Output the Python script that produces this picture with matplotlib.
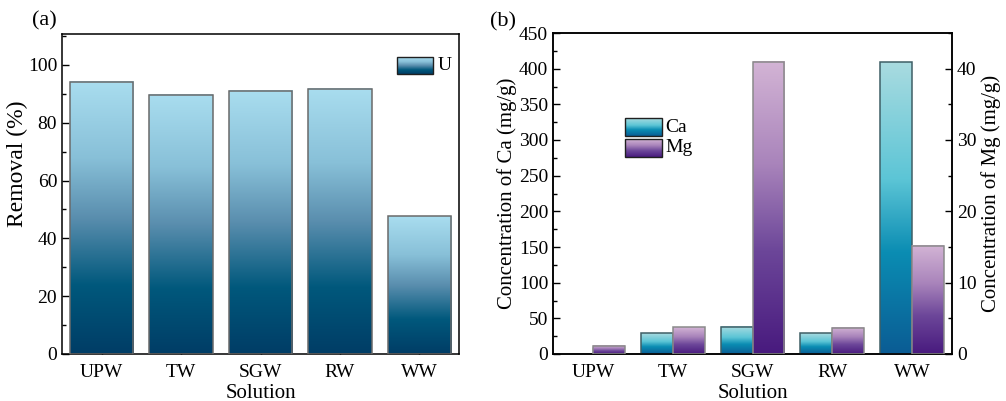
import matplotlib.pyplot as plt
import numpy as np
from matplotlib.colors import LinearSegmentedColormap
from matplotlib.patches import Rectangle
from matplotlib.ticker import MultipleLocator

plt.rcParams['font.family'] = ['Liberation Serif', 'DejaVu Serif']
plt.rcParams['mathtext.fontset'] = 'stix'

# Datos
solutions = ['UPW', 'TW', 'SGW', 'RW', 'WW']
removal_u = [94.2, 89.7, 91.0, 91.7, 47.7]
conc_ca = [0.0, 29.0, 38.5, 29.0, 409.0]
conc_mg = [1.15, 3.75, 41.0, 3.7, 15.2]

# Degradados (abajo -> arriba)
cmap_u = LinearSegmentedColormap.from_list(
    'u', [(0.0, '#003d66'), (0.25, '#00587c'), (0.5, '#5a8eae'),
          (0.72, '#88c0d8'), (1.0, '#a9ddef')])
cmap_ca = LinearSegmentedColormap.from_list(
    'ca', [(0.0, '#0a5c94'), (0.35, '#0b8db3'), (0.6, '#5cc5d6'),
           (1.0, '#a9dbe0')])
cmap_mg = LinearSegmentedColormap.from_list(
    'mg', [(0.0, '#481a7e'), (0.35, '#6c4699'), (0.65, '#a984bb'),
           (1.0, '#d3b4d5')])

grad = np.linspace(0, 1, 256).reshape(-1, 1)
TICK_FS = 14
LABEL_FS = 15


def gradient_bar(ax, x, h, w, cmap, edge='#6a6a6a'):
    if h <= 0:
        return
    ax.imshow(grad, extent=[x - w / 2, x + w / 2, 0, h], origin='lower',
              cmap=cmap, aspect='auto', zorder=2, interpolation='bilinear')
    ax.add_patch(Rectangle((x - w / 2, 0), w, h, fill=False, edgecolor=edge,
                           linewidth=1.1, zorder=3))


def gradient_key(ax, x0, y0, w, h, cmap, label):
    ax.imshow(grad, extent=[x0, x0 + w, y0, y0 + h], origin='lower', cmap=cmap,
              aspect='auto', transform=ax.transAxes, zorder=4)
    ax.add_patch(Rectangle((x0, y0), w, h, fill=False, edgecolor='#202020',
                           linewidth=1.0, transform=ax.transAxes, zorder=5))
    ax.text(x0 + w + 0.01, y0 + h / 2, label, transform=ax.transAxes,
            ha='left', va='center', fontsize=14)


def style_axis(ax):
    ax.tick_params(direction='in', which='both', labelsize=TICK_FS, top=False)
    ax.tick_params(which='major', length=5, width=1)
    ax.tick_params(which='minor', length=3, width=1)
    for s in ax.spines.values():
        s.set_linewidth(1.1)


fig = plt.figure(figsize=(10.06, 4.01), dpi=100)
ax1 = fig.add_axes([62 / 1006, 1 - 354 / 401, 397 / 1006, 320 / 401])
ax2 = fig.add_axes([553 / 1006, 1 - 354 / 401, 399 / 1006, 321 / 401])

x = np.arange(len(solutions))

# (a) Eliminación de U
for xi, v in zip(x, removal_u):
    gradient_bar(ax1, xi, v, 0.8, cmap_u)
ax1.set_xlim(-0.5, 4.5)
ax1.set_ylim(0, 110.7)
ax1.set_xticks(x)
ax1.set_xticklabels(solutions)
ax1.yaxis.set_major_locator(MultipleLocator(20))
ax1.yaxis.set_minor_locator(MultipleLocator(10))
ax1.tick_params(right=False)
style_axis(ax1)
ax1.tick_params(axis='x', pad=7)
ax1.set_ylabel('Removal (%)', fontsize=17)
ax1.yaxis.set_label_coords(-0.085, 0.594)
ax1.set_xlabel('Solution', fontsize=LABEL_FS, labelpad=2)
gradient_key(ax1, 0.843, 0.875, 0.092, 0.053, cmap_u, 'U')
ax1.text(-0.076, 1.04, '(a)', transform=ax1.transAxes, fontsize=16,
         ha='left', va='center')

# (b) Ca y Mg
ax3 = ax2.twinx()
for xi, v in zip(x, conc_ca):
    gradient_bar(ax2, xi - 0.2, v, 0.4, cmap_ca, edge='#3f5f66')
for xi, v in zip(x, conc_mg):
    gradient_bar(ax3, xi + 0.2, v, 0.4, cmap_mg, edge='#8a8a8a')
for a in (ax2, ax3):
    a.set_xlim(-0.5, 4.5)
ax2.set_ylim(0, 450)
ax3.set_ylim(0, 45)
ax2.set_xticks(x)
ax2.set_xticklabels(solutions)
ax2.yaxis.set_major_locator(MultipleLocator(50))
ax2.yaxis.set_minor_locator(MultipleLocator(25))
ax3.yaxis.set_major_locator(MultipleLocator(10))
ax3.yaxis.set_minor_locator(MultipleLocator(5))
style_axis(ax2)
style_axis(ax3)
ax2.tick_params(right=False)
ax2.tick_params(axis='x', pad=7)
ax2.set_ylabel('Concentration of Ca (mg/g)', fontsize=LABEL_FS, labelpad=1)
ax3.set_ylabel('Concentration of Mg (mg/g)', fontsize=LABEL_FS, labelpad=3)
ax2.set_xlabel('Solution', fontsize=LABEL_FS, labelpad=2)
gradient_key(ax3, 0.18, 0.678, 0.092, 0.056, cmap_ca, 'Ca')
gradient_key(ax3, 0.18, 0.614, 0.092, 0.056, cmap_mg, 'Mg')
ax2.text(-0.158, 1.034, '(b)', transform=ax2.transAxes, fontsize=16,
         ha='left', va='center')

plt.savefig('out.png', dpi=100)
plt.close()
